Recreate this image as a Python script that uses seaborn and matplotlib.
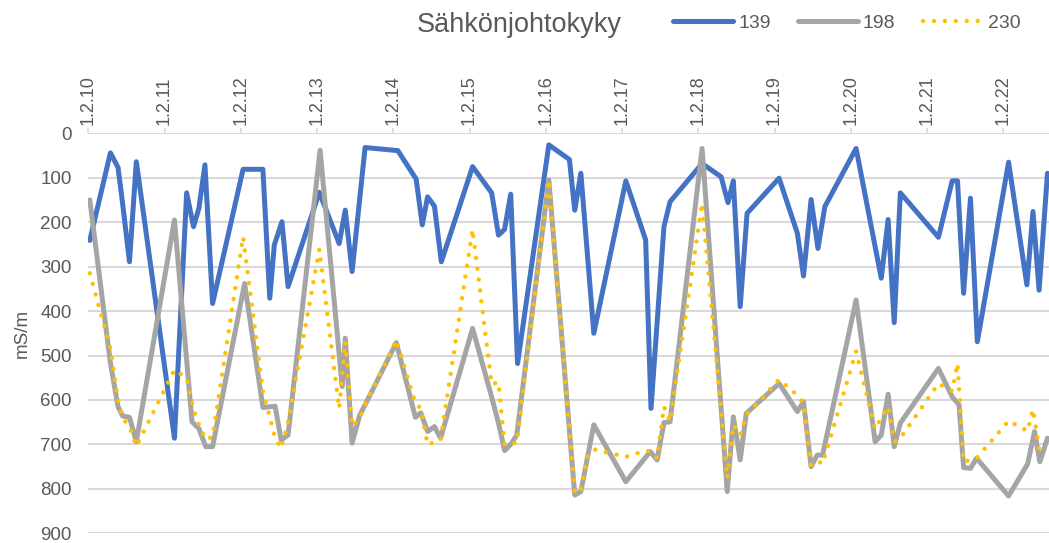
import matplotlib
matplotlib.use("Agg")
import matplotlib.pyplot as plt
import seaborn as sns
import pandas as pd

# ---- data (days after 1.2.10, conductivity mS/m) ----
t139 = [0.02,0.29,0.39,0.45,0.54,0.63,1.13,1.29,1.38,1.45,1.53,1.63,2.03,2.29,2.38,2.44,2.54,2.62,
        3.03,3.29,3.37,3.46,3.63,4.06,4.30,4.38,4.45,4.54,4.63,5.04,5.29,5.38,5.46,5.54,5.63,
        6.04,6.31,6.38,6.46,6.63,7.05,7.31,7.38,7.55,7.63,8.05,8.30,8.39,8.46,8.55,8.64,
        9.06,9.30,9.38,9.48,9.57,9.66,10.07,10.40,10.49,10.57,10.65,11.15,11.33,11.40,11.48,11.57,11.66,
        12.07,12.31,12.39,12.47,12.58]
v139 = [241,44,77,158,289,64,686,134,210,169,71,383,81,81,371,251,199,345,
        133,248,173,311,32,39,103,206,143,164,289,75,134,229,216,137,518,
        26,59,173,90,450,107,240,619,210,154,68,98,156,107,390,180,
        101,225,321,149,259,165,34,326,194,426,134,234,107,107,360,146,469,
        65,341,176,353,90]

t198 = [0.02,0.29,0.39,0.45,0.54,0.63,1.13,1.36,1.45,1.54,1.63,2.05,2.29,2.45,2.53,2.62,
        3.04,3.33,3.37,3.46,3.56,3.63,4.04,4.29,4.36,4.45,4.54,4.62,5.04,5.29,5.38,5.46,5.54,5.62,
        6.04,6.38,6.46,6.63,7.05,7.37,7.46,7.55,7.63,8.05,8.38,8.46,8.55,8.63,
        9.06,9.30,9.38,9.48,9.56,9.63,10.07,10.32,10.40,10.49,10.57,10.65,
        11.15,11.33,11.42,11.48,11.57,11.65,12.07,12.32,12.41,12.48,12.58]
v198 = [150,517,615,636,639,694,195,649,664,705,705,338,617,614,690,679,
        38,570,461,697,634,611,471,639,629,671,660,686,439,593,652,714,700,679,
        105,814,806,656,784,716,735,651,649,34,806,638,735,630,
        563,626,604,750,724,724,375,694,679,587,705,652,
        529,593,611,752,754,731,816,744,671,739,686]

t230 = [0.02,0.29,0.39,0.45,0.54,0.63,1.13,1.29,1.38,1.45,1.54,1.63,2.03,2.29,2.38,2.45,2.53,2.62,
        3.03,3.29,3.37,3.46,3.56,3.63,4.04,4.29,4.36,4.45,4.54,4.62,5.04,5.29,5.38,5.46,5.54,5.62,
        6.04,6.38,6.46,6.54,6.63,7.05,7.31,7.38,7.46,7.55,7.63,8.05,8.38,8.46,8.55,8.63,
        9.06,9.30,9.38,9.48,9.56,9.63,10.07,10.32,10.40,10.49,10.57,10.65,
        11.15,11.33,11.40,11.48,11.57,11.65,12.07,12.32,12.39,12.47,12.58]
v230 = [315,484,600,641,660,704,532,551,622,655,689,683,233,581,638,686,709,650,
        261,619,469,659,640,611,465,607,619,701,694,690,216,565,560,701,697,697,
        105,810,803,730,711,728,714,716,731,615,649,157,776,656,679,634,
        554,589,608,746,736,744,491,665,640,615,694,686,
        563,580,518,739,735,731,647,670,621,710,698]

date_labels = ["1.2.10","1.2.11","1.2.12","1.2.13","1.2.14","1.2.15","1.2.16",
               "1.2.17","1.2.18","1.2.19","1.2.20","1.2.21","1.2.22"]
y_ticks = [0,100,200,300,400,500,600,700,800,900]
series_names = ["139","198","230"]
title = "Sähkönjohtokyky"
y_label = "mS/m"

sns.set_theme(style="white")
plt.rcParams["font.family"] = ["Liberation Sans", "DejaVu Sans"]

TXT = "#595959"
GRID = "#D9D9D9"

fig = plt.figure(figsize=(10.49, 5.43), dpi=100)
ax = fig.add_axes([88.3/1049, 9.7/543, 960.7/1049, 400/543])

df139 = pd.DataFrame({"t": t139, "v": v139})
df198 = pd.DataFrame({"t": t198, "v": v198})
df230 = pd.DataFrame({"t": t230, "v": v230})

sns.lineplot(data=df139, x="t", y="v", ax=ax, sort=False, estimator=None,
             color="#4472C4", linewidth=3.6, label=series_names[0])
sns.lineplot(data=df198, x="t", y="v", ax=ax, sort=False, estimator=None,
             color="#A5A5A5", linewidth=3.6, label=series_names[1])
sns.lineplot(data=df230, x="t", y="v", ax=ax, sort=False, estimator=None,
             color="#FFC000", linewidth=3.2, label=series_names[2])

lines = ax.get_lines()
for ln in lines:
    ln.set_solid_capstyle("round")
    ln.set_solid_joinstyle("round")
lines[2].set_linestyle((0, (0.01, 2.45)))
lines[2].set_dash_capstyle("round")

ax.set_xlim(0, 12.6)
ax.set_ylim(900, 0)
ax.set_yticks(y_ticks)
ax.set_yticklabels([str(v) for v in y_ticks])
ax.set_xticks(range(len(date_labels)))
ax.set_xticklabels(date_labels, rotation=90)

ax.xaxis.tick_top()
ax.tick_params(axis="x", which="both", top=True, bottom=False, length=3.6, width=1.2,
               color=GRID, labelsize=13, labelcolor=TXT, pad=2.5, direction="out")
ax.tick_params(axis="y", left=False, length=0, labelsize=13.5, labelcolor=TXT, pad=12)

ax.grid(axis="y", color=GRID, linewidth=1.5)
ax.grid(axis="x", visible=False)
ax.set_axisbelow(True)
for s in ["left", "right", "bottom", "top"]:
    ax.spines[s].set_visible(False)

ax.set_xlabel("")
ax.set_ylabel(y_label, fontsize=13.5, color=TXT, labelpad=7)

ax.legend_.remove()
fig.text(519/1049, 1 - 31.5/543, title, ha="center", va="baseline",
         fontsize=19.5, color=TXT)
leg = fig.legend(handles=lines, labels=series_names, loc="center left",
                 bbox_to_anchor=(669/1049, 1 - 22.7/543), ncol=3, frameon=False,
                 fontsize=14, handlelength=3.1, handletextpad=0.25,
                 columnspacing=1.4, borderaxespad=0, borderpad=0.2)
for t in leg.get_texts():
    t.set_color(TXT)

fig.savefig("out.png", dpi=100)
